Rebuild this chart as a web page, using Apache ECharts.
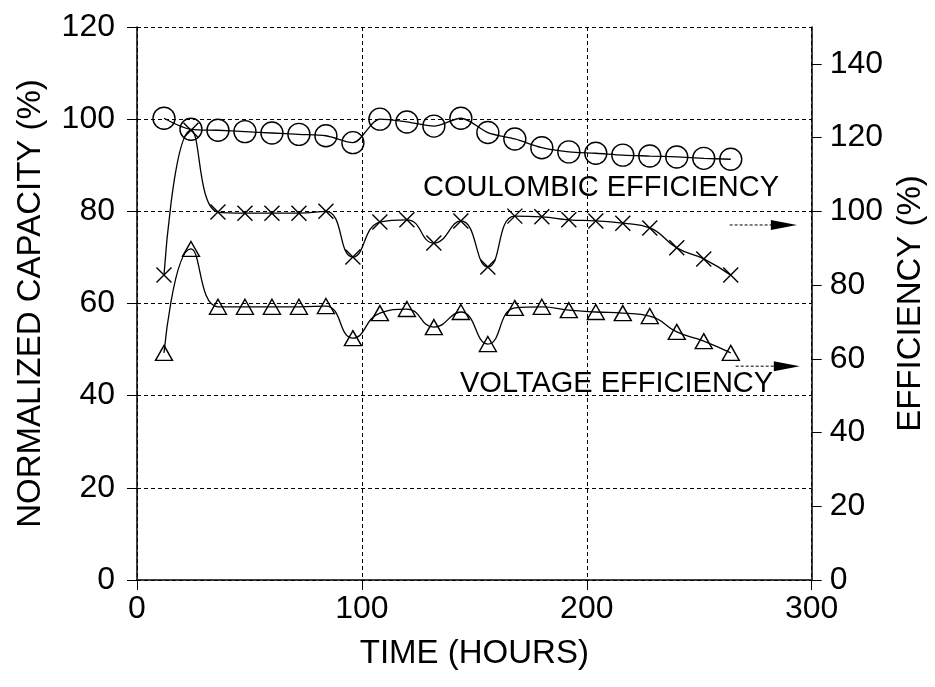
<!DOCTYPE html>
<html>
<head>
<meta charset="utf-8">
<script src="https://cdn.jsdelivr.net/npm/echarts@6/dist/echarts.min.js"></script>
<style>html,body{margin:0;padding:0;background:#fff}#c{width:935px;height:687px}</style>
</head>
<body>
<div id="c"></div>
<script>
// Time (hours)
var TIME = [12, 24, 36, 48, 60, 72, 84, 96, 108, 120, 132, 144, 156, 168, 180, 192, 204, 216, 228, 240, 252, 264];
// Normalized capacity (%) - left axis
var CAPACITY = [100.2, 97.8, 97.6, 97.3, 97.0, 96.7, 96.4, 94.9, 100.0, 99.4, 98.5, 100.2, 97.1, 95.7, 93.8, 92.9, 92.6, 92.2, 92.0, 91.8, 91.5, 91.3];
// Coulombic efficiency (%) - right axis
var COULOMBIC = [82.7, 122.0, 99.8, 99.5, 99.5, 99.5, 100.0, 87.6, 97.1, 97.7, 91.4, 97.4, 84.9, 98.7, 98.5, 97.7, 97.4, 96.8, 95.5, 90.1, 87.1, 82.7];
// Voltage efficiency (%) - right axis
var VOLTAGE = [61.6, 89.8, 74.1, 74.1, 74.1, 74.1, 74.3, 65.6, 72.4, 73.5, 68.6, 72.7, 64.0, 73.8, 74.1, 73.2, 72.7, 72.4, 71.6, 67.3, 64.8, 61.6];
// Tick labels
var X_TICKS = [0, 100, 200, 300];
var LEFT_TICKS = [0, 20, 40, 60, 80, 100, 120];
var RIGHT_TICKS = [0, 20, 40, 60, 80, 100, 120, 140];
// Annotation arrows [x0, x1, y] in data units (right axis)
var ARROW_CE = [263.5, 293.4, 96.3];
var ARROW_VE = [266.2, 294.7, 58.0];

function pairs(xs, ys) { return xs.map(function (x, i) { return [x, ys[i]]; }); }

var FONT = 'Liberation Sans, Arial, sans-serif';
var dash = { type: [4, 3], color: '#000', width: 1 };

var chart = echarts.init(document.getElementById('c'), null, { renderer: 'canvas' });
chart.setOption({
  animation: false,
  backgroundColor: '#fff',
  grid: { left: 137, right: 115, top: 27, bottom: 107, containLabel: false },
  xAxis: {
    type: 'value', min: 0, max: 300, interval: 100,
    name: 'TIME (HOURS)', nameLocation: 'middle', nameGap: 57,
    nameTextStyle: { fontFamily: FONT, fontSize: 33, color: '#000' },
    axisLine: { show: true, lineStyle: { color: '#000', width: 1.5 } },
    axisTick: { show: true, inside: false, length: 10, lineStyle: { color: '#000', width: 1 }, customValues: X_TICKS },
    axisLabel: { fontFamily: FONT, fontSize: 32, color: '#000', margin: 13, customValues: X_TICKS },
    splitLine: { show: true, lineStyle: dash }
  },
  yAxis: [{
    type: 'value', min: 0, max: 120, interval: 20, position: 'left',
    name: 'NORMALIZED CAPACITY (%)', nameLocation: 'middle', nameGap: 90, nameRotate: 90,
    nameTextStyle: { fontFamily: FONT, fontSize: 33, color: '#000' },
    axisLine: { show: true, lineStyle: { color: '#000', width: 1.5 } },
    axisTick: { show: true, inside: false, length: 10, lineStyle: { color: '#000', width: 1 }, customValues: LEFT_TICKS },
    axisLabel: { fontFamily: FONT, fontSize: 32, color: '#000', margin: 22, customValues: LEFT_TICKS },
    splitLine: { show: true, lineStyle: dash }
  }, {
    type: 'value', min: 0, max: 150, interval: 10, position: 'right',
    name: 'EFFICIENCY (%)', nameLocation: 'middle', nameGap: 80, nameRotate: 90,
    nameTextStyle: { fontFamily: FONT, fontSize: 33, color: '#000' },
    axisLine: { show: true, lineStyle: { color: '#000', width: 1.5 } },
    axisTick: { show: true, inside: false, length: 10, lineStyle: { color: '#000', width: 1 }, customValues: RIGHT_TICKS },
    axisLabel: { fontFamily: FONT, fontSize: 32, color: '#000', margin: 18, customValues: RIGHT_TICKS },
    splitLine: { show: false }
  }],
  series: [{
    name: 'capacity', type: 'line', yAxisIndex: 0, data: pairs(TIME, CAPACITY),
    smooth: 0.3, symbol: 'circle', symbolSize: 22,
    lineStyle: { color: '#000', width: 1.3 },
    itemStyle: { color: 'rgba(0,0,0,0)', borderColor: '#000', borderWidth: 1.4 }
  }, {
    name: 'coulombic', type: 'line', yAxisIndex: 1, data: pairs(TIME, COULOMBIC),
    smooth: 0.5, symbol: 'path://M0,0L10,10M10,0L0,10', symbolSize: 15,
    lineStyle: { color: '#000', width: 1.3 },
    itemStyle: { color: 'rgba(0,0,0,0)', borderColor: '#000', borderWidth: 1.4 }
  }, {
    name: 'voltage', type: 'line', yAxisIndex: 1, data: pairs(TIME, VOLTAGE),
    smooth: 0.5, symbol: 'triangle', symbolSize: [17, 15],
    lineStyle: { color: '#000', width: 1.3 },
    itemStyle: { color: 'rgba(0,0,0,0)', borderColor: '#000', borderWidth: 1.4 }
  }]
});

function arrow(a) {
  var p0 = chart.convertToPixel({ xAxisIndex: 0, yAxisIndex: 1 }, [a[0], a[2]]);
  var p1 = chart.convertToPixel({ xAxisIndex: 0, yAxisIndex: 1 }, [a[1], a[2]]);
  return [
    { type: 'line', shape: { x1: p0[0], y1: p0[1], x2: p1[0] - 20, y2: p1[1] },
      style: { stroke: '#000', lineWidth: 1, lineDash: [3, 2] } },
    { type: 'polygon', shape: { points: [[p1[0] - 26, p1[1] - 5], [p1[0], p1[1]], [p1[0] - 26, p1[1] + 5]] },
      style: { fill: '#000' } }
  ];
}

chart.setOption({
  graphic: [
    { type: 'text', left: 423, top: 173, style: { text: 'COULOMBIC EFFICIENCY', font: '29px ' + FONT, fill: '#000' } },
    { type: 'text', left: 460, top: 369, style: { text: 'VOLTAGE EFFICIENCY', font: '29px ' + FONT, fill: '#000' } }
  ].concat(arrow(ARROW_CE), arrow(ARROW_VE))
});
</script>
</body>
</html>
